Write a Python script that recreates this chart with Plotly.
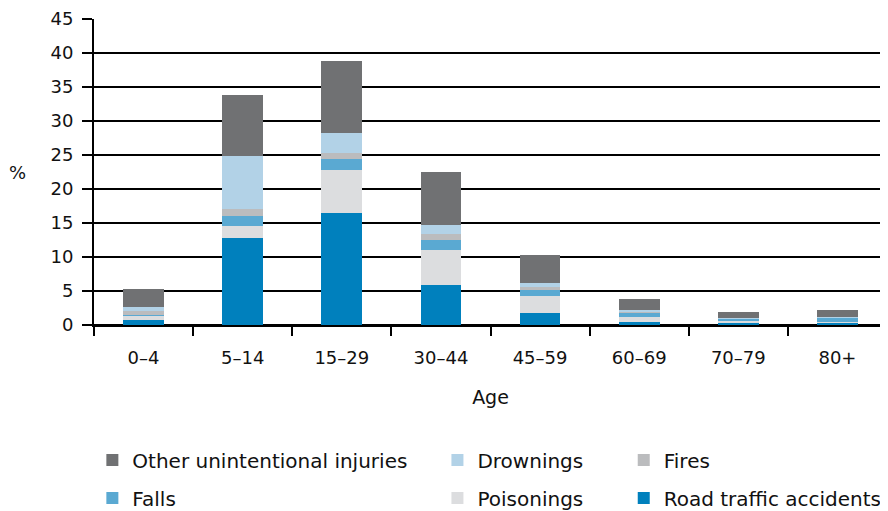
import plotly.graph_objects as go

ages = ["0–4", "5–14", "15–29", "30–44", "45–59", "60–69", "70–79", "80+"]

road = [0.75, 12.8, 16.5, 5.9, 1.75, 0.4, 0.35, 0.35]
poisonings = [0.6, 1.75, 6.3, 5.15, 2.5, 0.78, 0.3, 0.1]
falls = [0.15, 1.45, 1.6, 1.5, 0.9, 0.6, 0.3, 0.6]
fires = [0.55, 1.05, 0.9, 0.9, 0.45, 0.12, 0.07, 0.07]
drownings = [0.6, 7.8, 2.9, 1.3, 0.6, 0.3, 0.08, 0.08]
other = [2.65, 8.95, 10.6, 7.75, 4.1, 1.6, 0.85, 1.0]

# (name, values, colour, legend column, legend rank)
series = [
    ("Road traffic accidents", road, "#0080BD", "legend3", 6),
    ("Poisonings", poisonings, "#DCDDDF", "legend2", 5),
    ("Falls", falls, "#5AA9D2", "legend", 4),
    ("Fires", fires, "#BBBCBE", "legend3", 3),
    ("Drownings", drownings, "#B2D2E7", "legend2", 2),
    ("Other unintentional injuries", other, "#707173", "legend", 1),
]

FONT = "DejaVu Sans, Liberation Sans, Arial, sans-serif"
TXT = "#111111"

fig = go.Figure()
for name, vals, color, lg, rank in series:
    fig.add_trace(go.Bar(
        x=ages, y=vals, name=name, marker=dict(color=color, line=dict(width=0)),
        legend=lg, legendgroup=name, legendrank=rank,
    ))

leg_common = dict(
    orientation="v", traceorder="grouped", yanchor="top", xanchor="left",
    xref="container", yref="container",
    font=dict(family=FONT, size=20, color=TXT), bgcolor="rgba(0,0,0,0)",
    tracegroupgap=9, itemclick=False,
)

fig.update_layout(
    width=888, height=511,
    margin=dict(l=86, r=9, t=11, b=194, autoexpand=False),
    paper_bgcolor="white", plot_bgcolor="white",
    barmode="stack", bargap=0.59,
    font=dict(family=FONT, size=18, color=TXT),
    legend=dict(x=0.095, y=0.1536, **leg_common),
    legend2=dict(x=0.4836, y=0.1536, **leg_common),
    legend3=dict(x=0.6934, y=0.1536, **leg_common),
    xaxis=dict(
        automargin=False,
        showline=True, linecolor="black", linewidth=2,
        ticks="outside", tickson="boundaries", ticklen=9, tickwidth=2, tickcolor="black",
        tickfont=dict(family=FONT, size=18, color=TXT), ticklabelstandoff=15,
        title=dict(text="Age", font=dict(family=FONT, size=19, color=TXT), standoff=24),
        showgrid=False,
    ),
    yaxis=dict(
        automargin=False,
        range=[0, 45], dtick=5, showline=True, linecolor="black", linewidth=2,
        ticks="outside", ticklen=10, tickwidth=2, tickcolor="black",
        showgrid=True, gridcolor="black", gridwidth=2,
        zeroline=True, zerolinecolor="black", zerolinewidth=2,
        tickfont=dict(family=FONT, size=18, color=TXT), ticklabelstandoff=5,
    ),
    annotations=[dict(
        text="%", xref="paper", yref="paper", x=-0.096, y=0.5, xanchor="center", yanchor="middle",
        showarrow=False, font=dict(family=FONT, size=18, color=TXT),
    )],
)

fig.write_html("out.html")
